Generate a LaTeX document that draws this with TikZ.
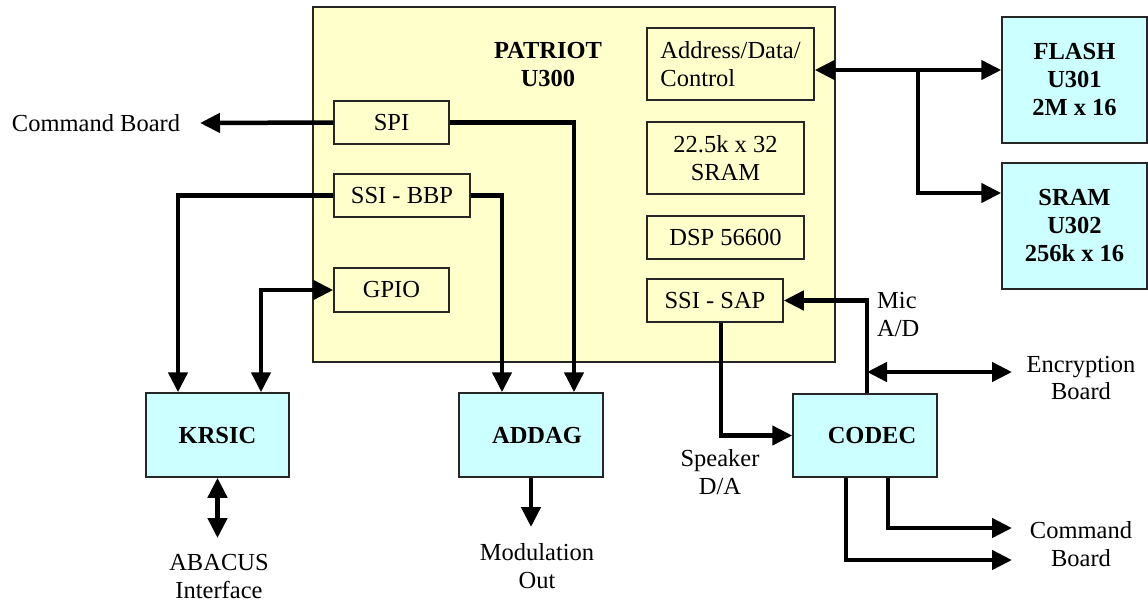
\documentclass[tikz,border=0pt]{standalone}
\usepackage{fontspec}
\setmainfont{Liberation Serif}
\usetikzlibrary{arrows.meta,positioning}

\definecolor{chipyellow}{HTML}{FFFFCC}
\definecolor{partblue}{HTML}{CCFFFF}

\begin{document}
\begin{tikzpicture}[x=1pt,y=-1pt,
	every node/.style={font=\fontsize{24.5}{28}\selectfont, inner sep=0pt},
	unit/.style={draw=black!85, line width=1.5pt, fill=chipyellow, align=center},
	part/.style={draw=black!85, line width=1.5pt, fill=partblue, align=center,
		font=\fontsize{24.5}{28}\selectfont\bfseries},
	sig/.style={line width=4.5pt, -{Triangle[length=20pt,width=19pt]}},
	sig2/.style={line width=4.5pt, {Triangle[length=20pt,width=19pt]}-{Triangle[length=20pt,width=19pt]}}]
	\useasboundingbox (0,0) rectangle (1148,603);

	% processor and its blocks
	\node[unit, minimum width=522pt, minimum height=355pt] (patriot) at (574,184.5) {};
	\node[font=\fontsize{24.5}{28}\selectfont\bfseries, align=center] (patriot_lbl) at (548,65) {PATRIOT\\U300};
	\node[unit, align=left, minimum width=167pt, minimum height=72pt] (addr) at (730.5,64) {Address/Data/\\Control};
	\node[unit, minimum width=157pt, minimum height=72pt] (sram32) at (725.5,158) {22.5k x 32\\SRAM};
	\node[unit, minimum width=157pt, minimum height=43pt] (dsp) at (725.5,237.5) {DSP 56600};
	\node[unit, minimum width=136pt, minimum height=43pt] (ssi_sap) at (715,300.5) {SSI - SAP};
	\node[unit, minimum width=115pt, minimum height=43pt] (spi) at (391.5,122.5) {SPI};
	\node[unit, minimum width=136pt, minimum height=43pt] (ssi_bbp) at (402,195.5) {SSI - BBP};
	\node[unit, minimum width=115pt, minimum height=44pt] (gpio) at (391.5,290) {GPIO};

	% outside parts
	\node[part, minimum width=145pt, minimum height=126pt] (flash) at (1074.5,80) {FLASH\\U301\\2M x 16};
	\node[part, minimum width=145pt, minimum height=126pt] (sram) at (1074.5,226) {SRAM\\U302\\256k x 16};
	\node[part, minimum width=143pt, minimum height=84pt] (krsic) at (217.5,435) {KRSIC};
	\node[part, minimum width=144pt, minimum height=84pt] (addag) at (531,435) {\hspace{12pt}ADDAG};
	\node[part, minimum width=144pt, minimum height=83pt] (codec) at (865,435.5) {\hspace{14pt}CODEC};

	% labels
	\node (cmd_left) at (96,123) {Command Board};
	\node[align=center] (abacus) at (219,576) {ABACUS\\Interface};
	\node[align=center] (mod_out) at (537,566) {Modulation\\Out};
	\node[align=left, anchor=west] (mic) at (877,315) {Mic\\A/D};
	\node[align=center] (speaker) at (720,472) {Speaker\\D/A};
	\node[align=center] (encr) at (1081,378) {Encryption\\Board};
	\node[align=center] (cmd_right) at (1081,544) {Command\\Board};

	\coordinate (cmd_tip) at (200,123);
	\coordinate (abacus_tip) at (217.5,538);
	\coordinate (mod_tip) at (531,527);
	\coordinate (bus) at (918,70);
	\coordinate (encr_tip) at (1012,372);
	\coordinate (cmd_tip1) at (1012,528);
	\coordinate (cmd_tip2) at (1012,560);

	% connections
	\draw[sig] (spi.west) -- (cmd_tip);
	\draw[sig] (spi.east) -| ([xshift=43pt]addag.north);
	\draw[sig] (ssi_bbp.east) -| ([xshift=-29pt]addag.north);
	\draw[sig] (ssi_bbp.west) -| ([xshift=-39.5pt]krsic.north);
	\draw[sig2] (gpio.west) -| ([xshift=43.5pt]krsic.north);
	\draw[sig2] (krsic.south) -- (abacus_tip);
	\draw[sig] (addag.south) -- (mod_tip);
	\draw[sig2] (bus -| addr.east) -- (bus -| flash.west);
	\draw[sig] (bus) |- ([yshift=33pt]sram.west);
	\draw[sig] ([xshift=6pt]ssi_sap.south) |- (codec.west);
	\draw[sig] ([xshift=2pt]codec.north) |- (ssi_sap.east);
	\draw[sig2] (encr_tip -| codec.north) ++(2,0) -- (encr_tip);
	\draw[sig] ([xshift=23pt]codec.south) |- (cmd_tip1);
	\draw[sig] ([xshift=-19pt]codec.south) |- (cmd_tip2);
\end{tikzpicture}
\end{document}
